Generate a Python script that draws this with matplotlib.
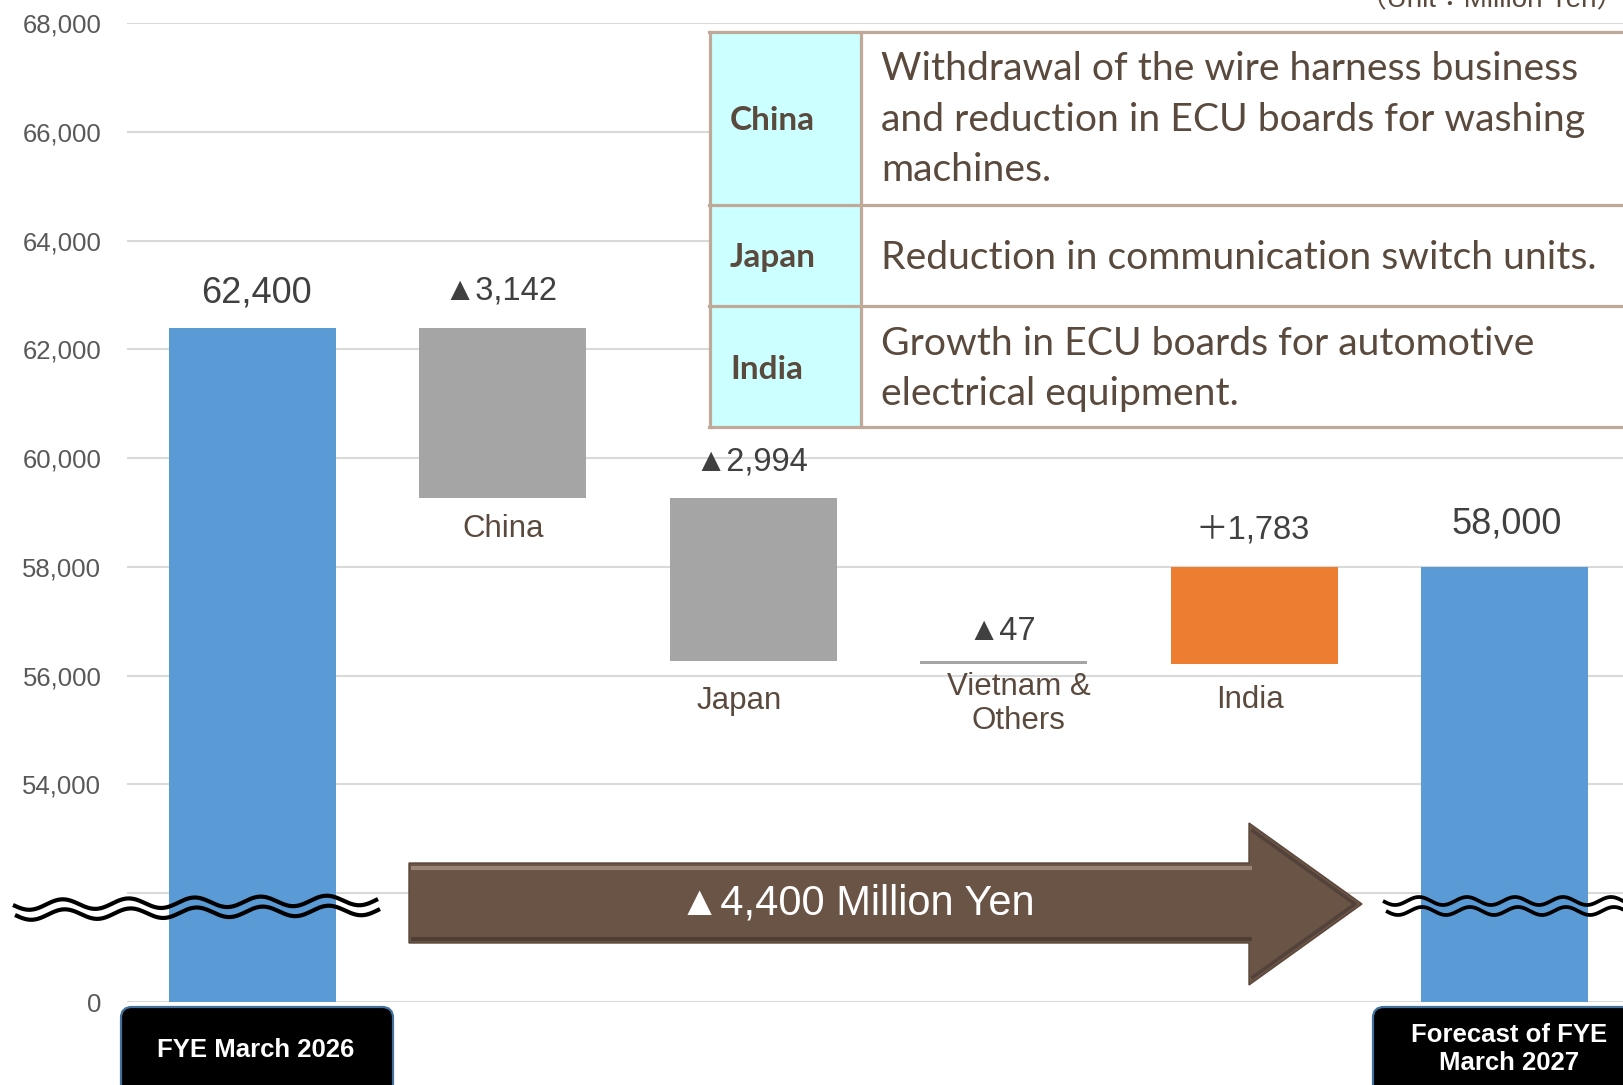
import matplotlib
matplotlib.use("Agg")
import matplotlib.pyplot as plt
from matplotlib.patches import Rectangle, Polygon, FancyBboxPatch
from matplotlib.lines import Line2D
from matplotlib.transforms import IdentityTransform
import numpy as np

# ---------------- data ----------------
start_label = "FYE March 2026"
end_label = "Forecast of FYE\nMarch 2027"
start_value = 62400
end_value = 58000
regions = ["China", "Japan", "Vietnam &\nOthers", "India"]
changes = [-3142, -2994, -47, 1783]
change_labels = ["▲3,142", "▲2,994", "▲47", "＋1,783"]
total_labels = ["62,400", "58,000"]
arrow_label = "▲4,400 Million Yen"
unit_label = "（Unit：Million Yen）"
table_regions = ["China", "Japan", "India"]
table_notes = [
    ["Withdrawal of the wire harness business",
     "and reduction in ECU boards for washing",
     "machines."],
    ["Reduction in communication switch units."],
    ["Growth in ECU boards for automotive",
     "electrical equipment."],
]
axis_zero = 50000          # broken axis: this level is shown as "0"
y_ticks = [50000, 52000, 54000, 56000, 58000, 60000, 62000, 64000, 66000, 68000]
y_tick_labels = ["0", "", "54,000", "56,000", "58,000", "60,000",
                 "62,000", "64,000", "66,000", "68,000"]

# ---------------- style ----------------
W, H, DPI = 1623, 1085, 100
BLUE, GRAY, ORANGE = "#5b9bd5", "#a5a5a5", "#ed7d31"
BROWN_TXT = "#5a4a3e"
VAL_TXT = "#404040"
TICK_TXT = "#595959"
BORDER = "#bfa999"
CYAN = "#ccffff"
ARROW = "#6a5446"

plt.rcParams["font.family"] = ["Liberation Sans", "DejaVu Sans", "Noto Sans CJK JP"]

fig = plt.figure(figsize=(W / DPI, H / DPI), dpi=DPI)
fig.patch.set_facecolor("white")
ax_left, ax_right, ax_top, ax_bot = 127, 1630, 23, 1002
ax = fig.add_axes([ax_left / W, 1 - ax_bot / H, (ax_right - ax_left) / W, (ax_bot - ax_top) / H])
ax.set_xlim(-0.5, 5.5)
ax.set_ylim(axis_zero, 68000)
for s in ax.spines.values():
    s.set_visible(False)
ax.set_yticks(y_ticks)
ax.set_yticklabels(y_tick_labels)
ax.tick_params(axis="y", length=0, pad=18.5, labelsize=18.5, labelcolor=TICK_TXT)
ax.set_xticks([])
ax.grid(axis="y", color="#d9d9d9", linewidth=1.5)
ax.set_axisbelow(True)

# waterfall
n = len(changes)
xs = np.arange(n + 2)
levels = start_value + np.cumsum([0] + changes)
bw = 0.665
ax.bar(xs[0], start_value - axis_zero, bottom=axis_zero, width=bw, color=BLUE, zorder=2)
ax.bar(xs[-1], end_value - axis_zero, bottom=axis_zero, width=bw, color=BLUE, zorder=2)
for i, c in enumerate(changes):
    lo = min(levels[i], levels[i + 1])
    ax.bar(xs[i + 1], abs(c), bottom=lo, width=bw, color=GRAY if c < 0 else ORANGE, zorder=2)

# value labels
ax.annotate(total_labels[0], (xs[0], start_value), xytext=(4, 35), textcoords="offset pixels",
            ha="center", va="center", fontsize=26, color=VAL_TXT)
ax.annotate(total_labels[1], (xs[-1], end_value), xytext=(2, 43), textcoords="offset pixels",
            ha="center", va="center", fontsize=26, color=VAL_TXT)
chg_dy = [37, 36, 30, 37]
for i, c in enumerate(changes):
    top = max(levels[i], levels[i + 1])
    ax.annotate(change_labels[i], (xs[i + 1], top), xytext=(-2, chg_dy[i]), textcoords="offset pixels",
                ha="center", va="center", fontsize=23.5, color=VAL_TXT)

# category labels
cat_off = [(0, -31), (-14, -40), (15, -40), (-4, -36)]
for i, name in enumerate(regions):
    bot = min(levels[i], levels[i + 1])
    ax.annotate(name, (xs[i + 1], bot), xytext=cat_off[i], textcoords="offset pixels",
                ha="center", va="center", fontsize=22.5, color=BROWN_TXT, linespacing=1.15)

ID = IdentityTransform()
def P(x, y):
    return (x, H - y)

# arrow
arrow_pts = [P(409, 863), P(1249, 863), P(1249, 823), P(1362, 904),
             P(1249, 985), P(1249, 943), P(409, 943)]
fig.add_artist(Polygon(arrow_pts, closed=True, facecolor=ARROW, edgecolor="#5a463a",
                       linewidth=1, transform=ID, zorder=5))
fig.add_artist(Line2D([411, 1252], [H - 868, H - 868], color="#9a8475", linewidth=3,
                      transform=ID, zorder=6, solid_capstyle="butt"))
fig.add_artist(Line2D([411, 1252], [H - 939, H - 939], color="#4e3e33", linewidth=3,
                      transform=ID, zorder=6, solid_capstyle="butt"))
fig.add_artist(Line2D([1253, 1355, 1253], [H - 831, H - 904, H - 977], color="#52423a",
                      linewidth=2.5, transform=ID, zorder=6))
fig.text(857 / W, 1 - 904 / H, arrow_label, ha="center", va="center", fontsize=30,
         color="white", zorder=7)

# break marks
def wave(x0, x1, yc, amp, period, lw, tilt=0.0):
    x = np.linspace(x0, x1, 400)
    y = yc + amp * np.sin(2 * np.pi * (x - x0) / period) + tilt * (x - x0) / (x1 - x0)
    fig.add_artist(Line2D(x, H - y, color="black", linewidth=lw, transform=ID, zorder=8,
                          solid_capstyle="butt"))
wave(13, 378, 905, 5, 66, 3.0, tilt=-5)
wave(15, 380, 915, 5, 66, 3.0, tilt=-5)
wave(1383, 1630, 901, 4, 48, 2.7)
wave(1386, 1630, 911, 4, 48, 2.7)

# black label boxes
def label_box(x0, x1, y0, y1, text, cx, cy):
    fig.add_artist(FancyBboxPatch((x0, H - y1), x1 - x0, y1 - y0,
                                  boxstyle="round,pad=0,rounding_size=11",
                                  facecolor="black", edgecolor="#41719c", linewidth=1.6,
                                  transform=ID, zorder=8))
    fig.text(cx / W, 1 - cy / H, text, ha="center", va="center", fontsize=18.5,
             fontweight="bold", color="white", zorder=9, linespacing=1.2)
label_box(121, 393, 1007, 1110, start_label, 256, 1050)
label_box(1373, 1660, 1007, 1110, end_label, 1509, 1049)

# explanation table
rows = [(32, 205), (205, 306), (306, 427)]
tx0, tx1, tx2 = 710, 861, 1640
for (r0, r1) in rows:
    fig.add_artist(Rectangle(P(tx0, r1), tx1 - tx0, r1 - r0, facecolor=CYAN, edgecolor="none",
                             transform=ID, zorder=5))
    fig.add_artist(Rectangle(P(tx1, r1), tx2 - tx1, r1 - r0, facecolor="white", edgecolor="none",
                             transform=ID, zorder=5))
for yy in [32, 205, 306, 427]:
    fig.add_artist(Line2D([tx0 - 1.5, tx2], [H - yy, H - yy], color=BORDER, linewidth=2.3,
                          transform=ID, zorder=6))
for xx in [tx0, tx1]:
    fig.add_artist(Line2D([xx, xx], [H - 32, H - 427], color=BORDER, linewidth=2.3,
                          transform=ID, zorder=6))
label_y = [120, 258, 369]
note_y = [[69, 120, 170], [258], [344, 394]]
for i, name in enumerate(table_regions):
    fig.text(730 / W, 1 - label_y[i] / H, name, ha="left", va="center", fontsize=24,
             fontweight="bold", family=["Lato", "DejaVu Sans"], color=BROWN_TXT, zorder=7)
    for j, line in enumerate(table_notes[i]):
        fig.text(881 / W, 1 - note_y[i][j] / H, line, ha="left", va="center", fontsize=28.2,
                 family=["Lato", "DejaVu Sans"], color=BROWN_TXT, zorder=7)

# unit note
fig.text(1359 / W, 1 - 7 / H, unit_label, ha="left", va="baseline", fontsize=20,
         color=BROWN_TXT, zorder=7)

fig.savefig("out.png", dpi=DPI)
